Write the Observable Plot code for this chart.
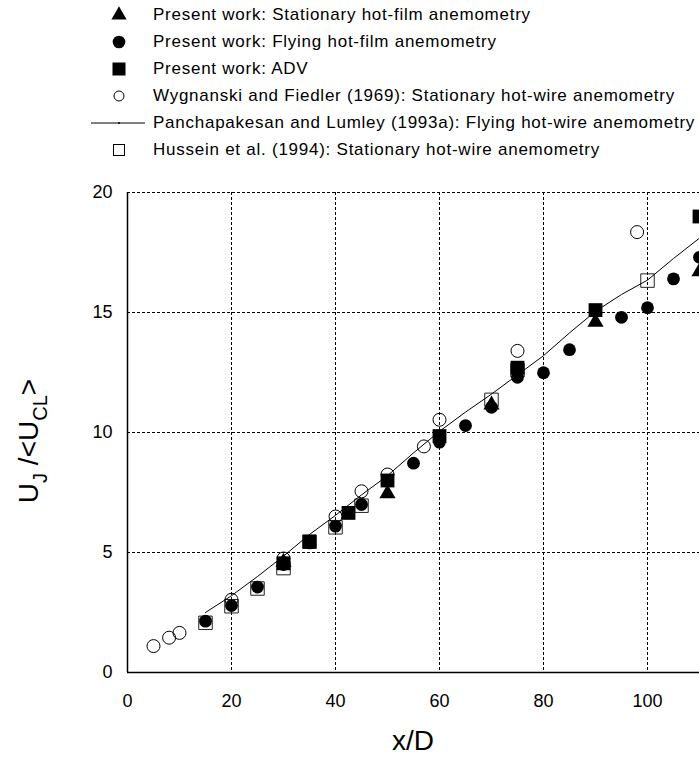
<!DOCTYPE html>
<html><head><meta charset="utf-8">
<script src="https://cdn.jsdelivr.net/npm/d3@7"></script>
<script src="https://cdn.jsdelivr.net/npm/@observablehq/plot@0.6"></script>
<style>
html,body{margin:0;padding:0;background:#fff;overflow:hidden;width:699px;height:757px}
#legend{position:relative;width:699px;height:170px;font-family:"Liberation Sans",Arial,sans-serif;font-size:17px;letter-spacing:0.75px;color:#000}
.row{position:absolute;left:0;width:699px;height:26px}
.row svg{position:absolute;left:80px;top:0}
.row span{position:absolute;left:153px;top:3px;white-space:nowrap;line-height:20px}
#chart svg{display:block}
</style></head><body>
<div id="legend"></div>
<div id="chart"></div>
<script>
// Present work: Stationary hot-film anemometry (filled triangles)
const stationaryX = [30, 50, 70, 90, 110];
const stationaryY = [4.6, 7.45, 11.15, 14.6, 16.7];
// Present work: Flying hot-film anemometry (filled circles)
const flyingX = [15, 20, 25, 30, 35, 40, 45, 55, 60, 65, 70, 75, 80, 85, 95, 100, 105, 110];
const flyingY = [2.14, 2.79, 3.56, 4.5, 5.4, 6.1, 7.0, 8.72, 9.6, 10.29, 11.05, 12.3, 12.49, 13.45, 14.8, 15.2, 16.4, 17.3];
// Present work: ADV (filled squares)
const advX = [30, 35, 42.5, 50, 60, 75, 90, 110];
const advY = [4.55, 5.45, 6.65, 8.0, 9.85, 12.7, 15.1, 19.0];
// Wygnanski and Fiedler (1969) (open circles)
const wygX = [5, 8, 10, 20, 30, 40, 45, 50, 57, 60, 75, 98];
const wygY = [1.1, 1.45, 1.65, 3.03, 4.75, 6.5, 7.55, 8.25, 9.42, 10.53, 13.4, 18.35];
// Panchapakesan and Lumley (1993a) (line)
const panchX = [15, 20, 25, 30, 35, 40, 45, 50, 55, 60, 65, 70, 75, 80, 85, 90, 95, 100, 105, 110];
const panchY = [2.5, 3.2, 4.0, 4.85, 5.75, 6.55, 7.4, 8.2, 9.15, 10.05, 10.85, 11.6, 12.4, 13.2, 14.15, 15.05, 15.75, 16.35, 17.25, 18.1];
// Hussein et al. (1994) (open squares)
const husseinX = [15, 20, 25, 30, 35, 40, 45, 70, 75, 100];
const husseinY = [2.07, 2.76, 3.5, 4.35, 5.45, 6.05, 6.95, 11.36, 12.6, 16.33];

const xTicks = [0, 20, 40, 60, 80, 100];
const yTicks = [0, 5, 10, 15, 20];
const legendLabels = [
  "Present work: Stationary hot-film anemometry",
  "Present work: Flying hot-film anemometry",
  "Present work: ADV",
  "Wygnanski and Fiedler (1969): Stationary hot-wire anemometry",
  "Panchapakesan and Lumley (1993a): Flying hot-wire anemometry",
  "Hussein et al. (1994): Stationary hot-wire anemometry"
];
const xLabel = "x/D";

const zip = (xs, ys) => xs.map((x, i) => ({x, y: ys[i]}));
const stationary = zip(stationaryX, stationaryY);
const flying = zip(flyingX, flyingY);
const adv = zip(advX, advY);
const wyg = zip(wygX, wygY);
const panch = zip(panchX, panchY);
const hussein = zip(husseinX, husseinY);

// Legend
const legendRows = [15, 42, 69, 96, 123, 150];
const legend = d3.select("#legend");
legendLabels.forEach((lab, i) => {
  const row = legend.append("div").attr("class", "row").style("top", (legendRows[i] - 13) + "px");
  const s = row.append("svg").attr("width", 70).attr("height", 26);
  const g = s.append("g").attr("transform", "translate(39,13)");
  if (i === 0) g.append("path").attr("d", d3.symbol(d3.symbolTriangle, 100)()).attr("fill", "#000");
  if (i === 1) g.append("circle").attr("r", 6.3).attr("fill", "#000");
  if (i === 2) g.append("rect").attr("x", -6.5).attr("y", -6.5).attr("width", 13).attr("height", 13).attr("fill", "#000");
  if (i === 3) g.append("circle").attr("r", 5).attr("fill", "none").attr("stroke", "#000").attr("stroke-width", 1);
  if (i === 4) {
    g.append("line").attr("x1", -28).attr("x2", 26).attr("y1", 0).attr("y2", 0).attr("stroke", "#000").attr("stroke-width", 1);
    g.append("circle").attr("r", 1).attr("fill", "#000");
  }
  if (i === 5) g.append("rect").attr("x", -5.5).attr("y", -5.5).attr("width", 11).attr("height", 11).attr("fill", "none").attr("stroke", "#000").attr("stroke-width", 1);
  row.append("span").text(lab);
});

const gridStyle = {stroke: "#000", strokeOpacity: 1, strokeWidth: 1, strokeDasharray: "3,2"};
const plot = Plot.plot({
  width: 699, height: 587,
  marginLeft: 127, marginRight: 0, marginTop: 22, marginBottom: 85,
  x: {domain: [0, 110]},
  y: {domain: [0, 20]},
  style: {fontFamily: "'Liberation Sans', Arial, sans-serif", fontSize: "18px", color: "#000", background: "#fff"},
  marks: [
    Plot.gridX(xTicks.filter(d => d > 0), gridStyle),
    Plot.gridY(yTicks.filter(d => d > 0), gridStyle),
    Plot.ruleX([0], {stroke: "#000", strokeWidth: 1.5}),
    Plot.ruleY([0], {stroke: "#000", strokeWidth: 1.5}),
    Plot.axisX(xTicks, {tickSize: 0, tickPadding: 22, label: null, fontSize: 18}),
    Plot.axisY(yTicks, {tickSize: 0, tickPadding: 15, label: null, fontSize: 18}),
    Plot.dot(hussein, {x: "x", y: "y", symbol: "square", r: 7.6, stroke: "#222", fill: "none", strokeWidth: 1}),
    Plot.line(panch, {x: "x", y: "y", stroke: "#000", strokeWidth: 1}),
    Plot.dot(wyg, {x: "x", y: "y", symbol: "circle", r: 6.5, stroke: "#000", fill: "none", strokeWidth: 1}),
    Plot.dot(flying, {x: "x", y: "y", symbol: "circle", r: 6.4, fill: "#000", stroke: "none"}),
    Plot.dot(stationary, {x: "x", y: "y", symbol: "triangle", r: 6.0, fill: "#000", stroke: "none"}),
    Plot.dot(adv, {x: "x", y: "y", symbol: "square", r: 7.8, fill: "#000", stroke: "none"})
  ]
});
document.getElementById("chart").appendChild(plot);

// Axis titles with subscripts
const svg = d3.select(plot);
const font = "'Liberation Sans', Arial, sans-serif";
const yt = svg.append("text")
  .attr("transform", "translate(38,271) rotate(-90)")
  .attr("text-anchor", "middle")
  .attr("font-family", font).attr("font-size", 28).attr("fill", "#000");
yt.append("tspan").text("U");
yt.append("tspan").attr("font-size", 20).attr("dy", 9).text("J");
yt.append("tspan").attr("dy", -9).text(" /<U");
yt.append("tspan").attr("font-size", 20).attr("dy", 9).text("CL");
yt.append("tspan").attr("dy", -9).text(">");
svg.append("text")
  .attr("x", 413).attr("y", 580)
  .attr("text-anchor", "middle")
  .attr("font-family", font).attr("font-size", 28).attr("fill", "#000")
  .text(xLabel);
</script>
</body></html>
